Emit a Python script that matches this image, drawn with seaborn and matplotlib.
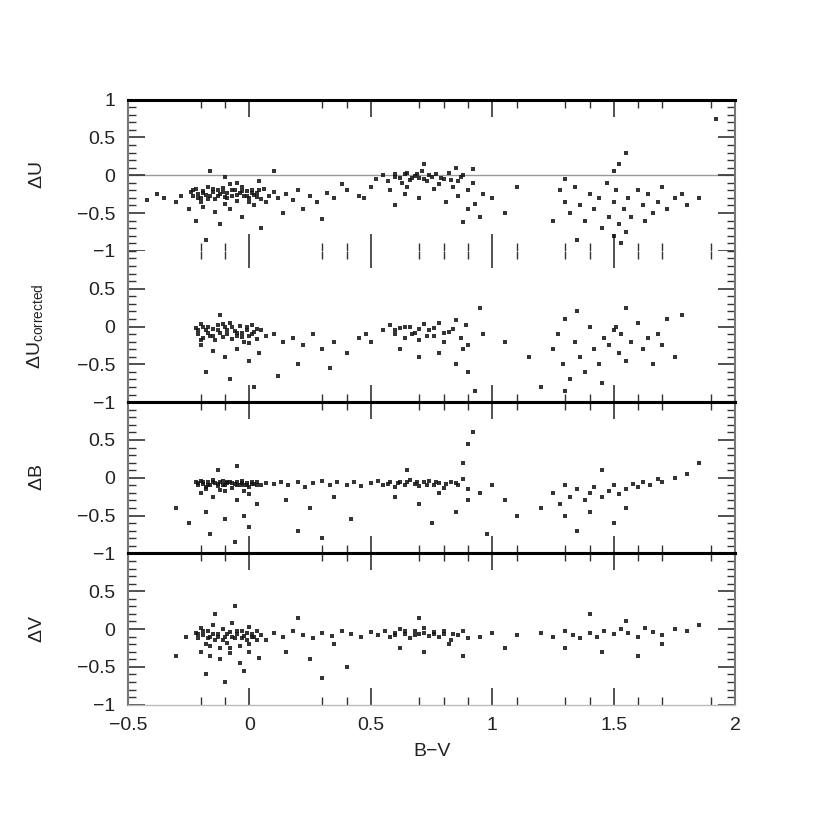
import matplotlib
matplotlib.use("Agg")
import matplotlib.pyplot as plt
from matplotlib.ticker import FixedLocator, FuncFormatter
import pandas as pd
import seaborn as sns

# residuals vs B-V colour as (B-V, delta)
u_pts = [
    (-0.24, -0.22), (-0.23, -0.27), (-0.22, -0.18), (-0.21, -0.25), (-0.2, -0.3), (-0.19, -0.21),
    (-0.18, -0.26), (-0.17, -0.15), (-0.16, -0.28), (-0.15, -0.22), (-0.14, -0.32), (-0.13, -0.2),
    (-0.12, -0.25), (-0.11, -0.17), (-0.1, -0.29), (-0.09, -0.23), (-0.08, -0.12), (-0.07, -0.27),
    (-0.06, -0.2), (-0.05, -0.34), (-0.04, -0.24), (-0.03, -0.16), (-0.02, -0.28), (-0.01, -0.21),
    (0.0, -0.3), (0.01, -0.19), (0.02, -0.26), (0.03, -0.23), (0.05, -0.31), (0.06, -0.18),
    (0.08, -0.27), (-0.19, -0.42), (-0.14, -0.48), (-0.08, -0.45), (-0.03, -0.55), (0.02, -0.4),
    (-0.22, -0.6), (-0.12, -0.65), (-0.05, -0.1), (-0.16, 0.05), (-0.1, -0.02), (0.04, -0.08),
    (-0.28, -0.28), (-0.3, -0.35), (-0.35, -0.3), (-0.42, -0.33), (-0.38, -0.25), (0.1, -0.22),
    (0.12, -0.3), (0.15, -0.25), (0.18, -0.33), (0.2, -0.2), (0.25, -0.28), (0.28, -0.35),
    (0.32, -0.24), (0.35, -0.3), (0.4, -0.2), (0.45, -0.27), (0.14, -0.5), (0.22, -0.45),
    (0.3, -0.58), (0.38, -0.12), (-0.18, -0.85), (0.05, -0.7), (0.1, 0.05),
    (-0.23, -0.2), (-0.21, -0.3), (-0.19, -0.24), (-0.17, -0.31), (-0.15, -0.18), (-0.13, -0.27),
    (-0.11, -0.22), (-0.09, -0.3), (-0.07, -0.19), (-0.05, -0.26), (-0.03, -0.21), (-0.01, -0.27),
    (0.01, -0.24), (0.03, -0.29), (0.04, -0.2), (-0.2, -0.35), (-0.1, -0.38), (0.0, -0.36),
    (-0.25, -0.45), (0.07, -0.35),
    (0.52, -0.05), (0.55, 0.0), (0.57, -0.08), (0.6, 0.02), (0.62, -0.03), (0.63, -0.1),
    (0.65, 0.03), (0.66, -0.06), (0.68, -0.01), (0.7, -0.04), (0.71, 0.05), (0.73, -0.08),
    (0.75, -0.02), (0.77, 0.01), (0.78, -0.12), (0.8, -0.05), (0.82, 0.03), (0.84, -0.15),
    (0.86, -0.07), (0.88, 0.0), (0.9, -0.2), (0.92, -0.1), (0.58, -0.2), (0.64, -0.25),
    (0.7, -0.3), (0.76, -0.18), (0.81, -0.35), (0.86, -0.28), (0.9, -0.45), (0.93, -0.38),
    (0.95, -0.55), (0.88, -0.62), (0.6, -0.4), (0.72, 0.15), (0.85, 0.1), (0.92, 0.08),
    (0.5, -0.15), (0.47, -0.3), (0.96, -0.25), (1.0, -0.3), (1.05, -0.5), (1.1, -0.15),
    (0.6, -0.02), (0.64, 0.01), (0.67, -0.03), (0.69, 0.02), (0.72, -0.05), (0.74, 0.0),
    (0.79, -0.03), (0.83, -0.06), (0.87, -0.02), (0.65, -0.15),
    (1.28, -0.2), (1.3, -0.35), (1.32, -0.5), (1.34, -0.15), (1.36, -0.4), (1.38, -0.6),
    (1.4, -0.25), (1.42, -0.45), (1.44, -0.3), (1.45, -0.7), (1.47, -0.1), (1.48, -0.55),
    (1.5, -0.8), (1.5, -0.35), (1.51, -0.2), (1.52, -0.65), (1.53, -0.9), (1.54, -0.45),
    (1.55, 0.3), (1.56, -0.3), (1.57, -0.55), (1.6, -0.2), (1.62, -0.4), (1.64, -0.25),
    (1.66, -0.5), (1.68, -0.35), (1.7, -0.15), (1.72, -0.45), (1.75, -0.3), (1.78, -0.25),
    (1.8, -0.4), (1.52, 0.15), (1.5, 0.05), (1.3, -0.05), (1.25, -0.6), (1.35, -0.85),
    (1.55, -0.75), (1.85, -0.3), (1.92, 0.75), (1.63, -0.6),
]

uc_pts = [
    (-0.22, -0.02), (-0.21, -0.1), (-0.2, 0.03), (-0.19, -0.15), (-0.18, -0.05), (-0.17, 0.0),
    (-0.16, -0.12), (-0.15, -0.03), (-0.14, -0.18), (-0.13, 0.02), (-0.12, -0.08), (-0.11, -0.14),
    (-0.1, -0.01), (-0.09, -0.1), (-0.08, 0.04), (-0.07, -0.16), (-0.06, -0.06), (-0.05, -0.12),
    (-0.04, 0.01), (-0.03, -0.09), (-0.02, -0.2), (-0.01, -0.04), (0.0, -0.13), (0.01, 0.02),
    (0.02, -0.07), (0.03, -0.17), (0.05, -0.05), (0.07, -0.12), (-0.2, -0.25), (-0.15, -0.32),
    (-0.1, -0.4), (-0.05, -0.3), (0.0, -0.45), (0.04, -0.35), (-0.18, -0.6), (-0.08, -0.7),
    (0.02, -0.8), (-0.12, 0.15), (0.1, -0.1), (0.14, -0.2), (0.18, -0.15), (0.22, -0.25),
    (0.26, -0.1), (0.3, -0.3), (0.35, -0.2), (0.4, -0.35), (0.45, -0.15), (0.2, -0.5),
    (0.12, -0.65), (0.33, -0.55),
    (-0.21, -0.05), (-0.19, 0.0), (-0.17, -0.09), (-0.15, -0.13), (-0.13, -0.04), (-0.11, 0.03),
    (-0.09, -0.05), (-0.07, -0.01), (-0.05, -0.08), (-0.03, -0.14), (-0.01, 0.0), (0.01, -0.1),
    (0.03, -0.03), (0.0, -0.22), (-0.2, -0.18),
    (0.55, -0.05), (0.58, 0.02), (0.6, -0.1), (0.62, -0.02), (0.64, -0.15), (0.66, 0.0),
    (0.68, -0.08), (0.7, -0.18), (0.72, 0.03), (0.74, -0.05), (0.76, -0.12), (0.78, 0.05),
    (0.8, -0.2), (0.82, -0.07), (0.85, 0.08), (0.87, -0.15), (0.89, 0.02), (0.9, -0.25),
    (0.62, -0.3), (0.7, -0.4), (0.78, -0.35), (0.85, -0.5), (0.88, -0.3), (0.9, -0.6),
    (0.93, -0.85), (0.95, 0.25), (0.5, -0.2), (0.48, -0.1), (0.96, -0.1), (1.05, -0.2),
    (0.6, -0.05), (0.64, 0.0), (0.67, -0.1), (0.7, -0.03), (0.73, -0.12), (0.76, -0.02),
    (0.8, -0.09), (0.84, -0.03),
    (1.25, -0.3), (1.27, -0.1), (1.29, -0.5), (1.3, 0.1), (1.32, -0.7), (1.34, -0.2),
    (1.36, -0.4), (1.38, -0.6), (1.4, 0.0), (1.42, -0.3), (1.44, -0.5), (1.46, -0.15),
    (1.48, -0.25), (1.5, -0.05), (1.51, 0.0), (1.52, -0.35), (1.53, -0.1), (1.55, -0.45),
    (1.57, -0.2), (1.6, 0.05), (1.62, -0.3), (1.64, -0.15), (1.66, -0.5), (1.68, -0.1),
    (1.7, -0.25), (1.72, 0.1), (1.75, -0.4), (1.78, 0.15), (1.3, -0.85), (1.45, -0.75),
    (1.2, -0.8), (1.15, -0.4), (1.35, 0.2), (1.55, 0.25),
]

b_pts = [
    (-0.22, -0.06), (-0.21, -0.1), (-0.2, -0.04), (-0.19, -0.08), (-0.18, -0.12), (-0.17, -0.05),
    (-0.16, -0.09), (-0.15, -0.03), (-0.14, -0.07), (-0.13, -0.11), (-0.12, -0.06), (-0.11, -0.04),
    (-0.1, -0.1), (-0.09, -0.07), (-0.08, -0.05), (-0.07, -0.13), (-0.06, -0.08), (-0.05, -0.06),
    (-0.04, -0.1), (-0.03, -0.04), (-0.02, -0.09), (-0.01, -0.07), (0.0, -0.12), (0.01, -0.05),
    (0.02, -0.08), (0.03, -0.06), (0.05, -0.1), (0.07, -0.07), (-0.2, -0.2), (-0.15, -0.25),
    (-0.1, -0.18), (-0.05, -0.3), (0.0, -0.22), (0.03, -0.35), (-0.18, -0.45), (-0.1, -0.55),
    (-0.02, -0.5), (-0.16, -0.75), (-0.06, -0.85), (0.0, -0.65), (-0.13, 0.1), (-0.05, 0.15),
    (-0.3, -0.4), (-0.25, -0.6),
    (-0.21, -0.07), (-0.19, -0.05), (-0.17, -0.09), (-0.15, -0.06), (-0.13, -0.08), (-0.11, -0.1),
    (-0.09, -0.05), (-0.07, -0.07), (-0.05, -0.09), (-0.03, -0.07), (-0.01, -0.1), (0.01, -0.08),
    (0.03, -0.09), (-0.18, -0.15), (-0.12, -0.16), (-0.02, -0.17),
    (0.1, -0.08), (0.13, -0.05), (0.16, -0.1), (0.2, -0.06), (0.23, -0.12), (0.26, -0.07),
    (0.3, -0.04), (0.33, -0.1), (0.36, -0.06), (0.4, -0.09), (0.43, -0.05), (0.46, -0.11),
    (0.15, -0.3), (0.25, -0.4), (0.35, -0.25), (0.42, -0.55), (0.2, -0.7), (0.3, -0.8),
    (0.5, -0.07), (0.53, -0.04), (0.55, -0.1), (0.58, -0.06), (0.6, -0.12), (0.62, -0.05),
    (0.64, -0.09), (0.66, -0.03), (0.68, -0.08), (0.7, -0.11), (0.72, -0.06), (0.74, -0.04),
    (0.76, -0.1), (0.78, -0.07), (0.8, -0.13), (0.83, -0.05), (0.86, -0.09), (0.88, -0.02),
    (0.9, -0.15), (0.6, -0.25), (0.7, -0.35), (0.78, -0.2), (0.85, -0.45), (0.9, -0.3),
    (0.75, -0.6), (0.88, 0.2), (0.9, 0.45), (0.92, 0.6), (0.65, 0.1), (0.95, -0.2),
    (1.0, -0.1), (1.05, -0.3), (1.1, -0.5), (0.98, -0.75),
    (0.57, -0.08), (0.61, -0.07), (0.65, -0.06), (0.69, -0.05), (0.73, -0.09), (0.77, -0.06),
    (0.81, -0.08), (0.85, -0.07),
    (1.25, -0.2), (1.28, -0.35), (1.3, -0.1), (1.32, -0.25), (1.35, -0.15), (1.38, -0.3),
    (1.4, -0.2), (1.42, -0.12), (1.45, -0.25), (1.48, -0.18), (1.5, -0.1), (1.52, -0.22),
    (1.55, -0.15), (1.58, -0.08), (1.6, -0.12), (1.62, -0.05), (1.65, -0.1), (1.68, -0.02),
    (1.7, -0.06), (1.75, 0.0), (1.8, 0.05), (1.85, 0.2), (1.3, -0.5), (1.4, -0.45),
    (1.5, -0.6), (1.35, -0.7), (1.2, -0.4), (1.55, -0.4), (1.45, 0.1),
]

v_pts = [
    (-0.22, -0.05), (-0.21, -0.12), (-0.2, 0.02), (-0.19, -0.08), (-0.18, -0.2), (-0.17, -0.03),
    (-0.16, -0.1), (-0.15, 0.05), (-0.14, -0.15), (-0.13, -0.06), (-0.12, -0.25), (-0.11, 0.0),
    (-0.1, -0.1), (-0.09, -0.18), (-0.08, -0.04), (-0.07, 0.08), (-0.06, -0.12), (-0.05, -0.07),
    (-0.04, -0.22), (-0.03, -0.02), (-0.02, -0.09), (-0.01, -0.15), (0.0, 0.03), (0.01, -0.06),
    (0.02, -0.11), (0.03, -0.03), (0.05, -0.08), (0.07, -0.14), (-0.2, -0.3), (-0.16, -0.35),
    (-0.12, -0.4), (-0.08, -0.32), (-0.04, -0.45), (0.0, -0.3), (0.04, -0.38), (-0.18, -0.6),
    (-0.1, -0.7), (-0.02, -0.55), (-0.14, 0.2), (-0.06, 0.3), (-0.3, -0.35), (-0.26, -0.1),
    (-0.21, -0.07), (-0.19, -0.02), (-0.17, -0.12), (-0.15, -0.06), (-0.13, -0.1), (-0.11, -0.15),
    (-0.09, -0.06), (-0.07, -0.1), (-0.05, -0.02), (-0.03, -0.12), (-0.01, -0.05), (0.01, -0.1),
    (0.03, -0.15), (-0.16, -0.22), (-0.08, -0.25), (0.0, -0.2),
    (0.1, -0.05), (0.14, -0.1), (0.18, -0.03), (0.22, -0.08), (0.26, -0.12), (0.3, -0.05),
    (0.34, -0.09), (0.38, -0.03), (0.42, -0.07), (0.46, -0.1), (0.15, -0.3), (0.25, -0.4),
    (0.35, -0.2), (0.4, -0.5), (0.2, 0.15), (0.3, -0.65),
    (0.5, -0.04), (0.53, -0.08), (0.56, -0.02), (0.58, -0.1), (0.6, -0.05), (0.62, 0.0),
    (0.64, -0.07), (0.66, -0.12), (0.68, -0.03), (0.7, -0.06), (0.72, 0.02), (0.74, -0.09),
    (0.76, -0.04), (0.78, -0.11), (0.8, -0.06), (0.83, -0.15), (0.86, -0.08), (0.88, -0.02),
    (0.9, -0.12), (0.62, -0.25), (0.72, -0.3), (0.82, -0.2), (0.88, -0.35), (0.7, 0.15),
    (0.95, -0.1), (1.0, -0.05), (1.05, -0.25), (1.1, -0.08),
    (0.6, -0.08), (0.64, -0.03), (0.68, -0.08), (0.72, -0.05), (0.76, -0.07), (0.8, -0.02),
    (0.84, -0.06),
    (1.2, -0.05), (1.25, -0.1), (1.3, -0.03), (1.33, -0.08), (1.36, -0.12), (1.4, -0.05),
    (1.43, -0.1), (1.46, -0.02), (1.5, -0.07), (1.53, 0.0), (1.56, -0.05), (1.6, -0.1),
    (1.63, 0.02), (1.66, -0.04), (1.7, -0.08), (1.75, 0.0), (1.8, -0.03), (1.3, -0.25),
    (1.45, -0.3), (1.6, -0.35), (1.7, -0.2), (1.4, 0.2), (1.55, 0.1), (1.85, 0.05),
]

panel_labels = [r"$\Delta$U", r"$\Delta$U$_{\rm corrected}$", r"$\Delta$B", r"$\Delta$V"]
x_major = [-0.5, 0, 0.5, 1, 1.5, 2]
x_minor = [-0.2, -0.1, 0.3, 0.4, 0.7, 0.8, 0.9, 1.1, 1.3, 1.4, 1.6, 1.7, 1.9]

sns.set_style("ticks")
plt.rcParams["font.family"] = ["Liberation Sans", "DejaVu Sans"]
plt.rcParams["mathtext.fontset"] = "custom"
plt.rcParams["mathtext.rm"] = "Liberation Sans"


def fmt(v, pos):
    s = "%g" % v
    return s.replace("-", "\u2212")


fig, axes = plt.subplots(4, 1, figsize=(8.3, 8.3), dpi=100, sharex=True)
fig.subplots_adjust(left=0.154, right=0.886, top=0.880, bottom=0.151, hspace=0)

for i, (ax, pts, lab) in enumerate(zip(axes, [u_pts, uc_pts, b_pts, v_pts], panel_labels)):
    df = pd.DataFrame(pts, columns=["bv", "d"])
    sns.scatterplot(data=df, x="bv", y="d", ax=ax, marker="s", s=5, color="#111111",
                    linewidth=0, alpha=0.85)
    ax.set_xlim(-0.5, 2)
    ax.set_ylim(-1, 1)
    ax.xaxis.set_major_locator(FixedLocator(x_major))
    ax.xaxis.set_minor_locator(FixedLocator(x_minor))
    yticks = [1, 0.5, 0, -0.5, -1] if i == 0 else [0.5, 0, -0.5, -1]
    ax.yaxis.set_major_locator(FixedLocator(yticks))
    ax.yaxis.set_minor_locator(FixedLocator([k / 10 for k in range(-10, 11)]))
    ax.yaxis.set_major_formatter(FuncFormatter(fmt))
    ax.xaxis.set_major_formatter(FuncFormatter(fmt))
    ax.tick_params(which="both", direction="in", top=True, right=True, colors="#333333",
                   labelsize=14, labelcolor="#222222")
    ax.tick_params(which="major", length=12, width=1.2, pad=9)
    ax.tick_params(which="minor", length=6, width=1.0)
    ax.set_ylabel(lab, fontsize=14, color="#222222", labelpad=22)
    ax.set_xlabel("")
    for side in ["left", "right"]:
        ax.spines[side].set_color("#777777")
        ax.spines[side].set_linewidth(1.5)
    ax.spines["top"].set_color("black")
    ax.spines["top"].set_linewidth(2.2)
    ax.spines["bottom"].set_color("black")
    ax.spines["bottom"].set_linewidth(2.2)

# the U panels share a border that is barely visible in the original
axes[0].spines["bottom"].set_visible(False)
axes[1].spines["top"].set_visible(False)
axes[3].spines["bottom"].set_color("#bbbbbb")
axes[3].spines["bottom"].set_linewidth(1.0)
axes[0].axhline(0, color="#999999", linewidth=1.0, zorder=0)

axes[3].set_xlabel("B\u2212V", fontsize=14, color="#222222", labelpad=6)

fig.savefig("out.png", dpi=100)
